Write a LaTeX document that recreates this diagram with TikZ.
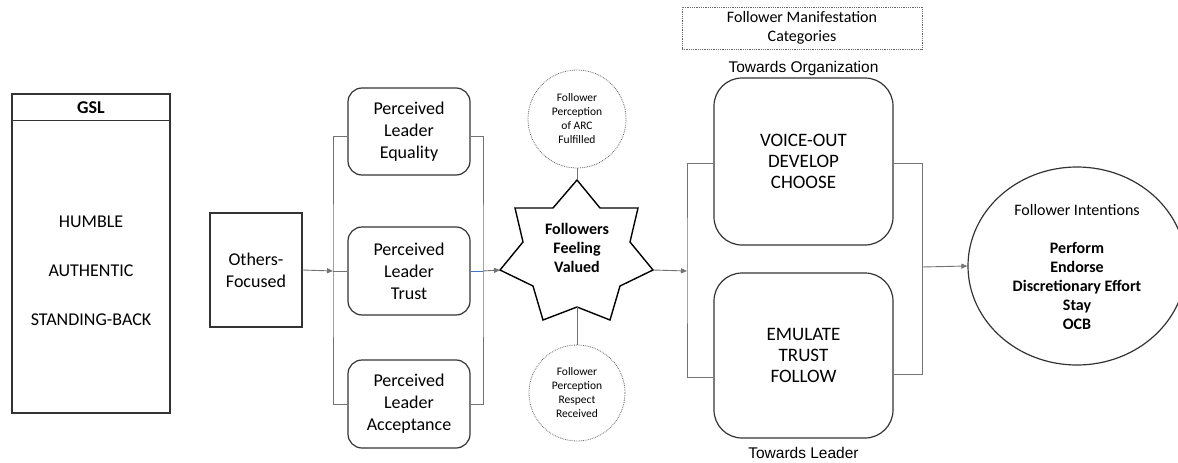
\documentclass[tikz,border=0pt]{standalone}
\usepackage{fontspec}
\setmainfont{Carlito}
\newfontfamily\arialfont{Liberation Sans}
\usetikzlibrary{arrows.meta,shapes.geometric}

\begin{document}
\begin{tikzpicture}[x=1pt,y=-1pt,
  box/.style={draw=black!80, line width=1.2pt, align=center, inner sep=0pt},
  roundbox/.style={box, rounded corners=14pt},
  bigbox/.style={box, rounded corners=28pt},
  dotcirc/.style={circle, draw=black!60, densely dotted, line width=0.8pt, align=center, inner sep=0pt},
  dotbox/.style={draw=black!60, densely dotted, line width=0.8pt, align=center, inner sep=0pt},
  link/.style={draw=black!55, line width=0.9pt},
  bluelink/.style={draw={rgb,255:red,68;green,114;blue,196}, line width=1pt},
  arr/.style={link, -{Triangle[length=6pt,width=5pt]}},
  boxtext/.style={font=\fontsize{18}{22}\selectfont},
  smalltext/.style={font=\fontsize{11.5}{14}\selectfont},
  midtext/.style={font=\fontsize{16}{19}\selectfont},
]
\useasboundingbox (0,0) rectangle (1178,463);
\fill[white] (0,0) rectangle (1178,463);

% leadership block
\node[box, minimum width=158, minimum height=319] (gsl) at (91,253.5) {};
\draw[box] ([yshift=-27pt]gsl.north west) -- ([yshift=-27pt]gsl.north east);
\node[font=\fontsize{18}{22}\selectfont\bfseries] (gsltitle) at (91,108) {GSL};
\node[align=center, font=\fontsize{18}{49}\selectfont] (traits) at (91,271) {HUMBLE\\AUTHENTIC\\STANDING-BACK};

\node[box, boxtext, minimum width=92, minimum height=114] (others) at (256,270) {Others-\\Focused};

% perceived leader attributes
\node[roundbox, boxtext, minimum width=122, minimum height=87] (equal) at (409,131.5) {Perceived\\Leader\\Equality};
\node[roundbox, boxtext, minimum width=122, minimum height=88] (trust) at (409,271) {Perceived\\Leader\\Trust};
\node[roundbox, boxtext, minimum width=122, minimum height=88] (accept) at (409,404) {Perceived\\Leader\\Acceptance};

\coordinate (lb) at (333,271);
\coordinate (rb) at (483,271);
\draw[arr] (others.east) -- (lb);
\draw[link] ([yshift=-5pt]equal.west) -| (lb) |- (accept.west);
\draw[link] (lb) -- (trust.west);
\draw[link] ([yshift=-5pt]equal.east) -| (rb) |- (accept.east);
\draw[bluelink] (trust.east) -- (rb);

% seven-pointed star
\coordinate (stT) at (577,180);
\coordinate (stR) at (653,270);
\coordinate (stB) at (577,307);
\coordinate (stL) at (500,270);
\draw[black, line width=1.4pt, line join=miter]
  (stT) -- (600,208) -- (638,208) -- (630,242) -- (stR) -- (620,286) -- (610,320)
  -- (stB) -- (543,320) -- (533,286) -- (stL) -- (523,242) -- (515,208) -- (553,208) -- cycle;
\node[align=center, font=\fontsize{16}{19}\selectfont\bfseries] (valued) at (577,248) {Followers\\Feeling\\Valued};
\draw[arr] (rb) -- (stL);

\node[dotcirc, smalltext, minimum size=98] (arc) at (577,119) {Follower\\Perception\\of ARC\\Fulfilled};
\node[dotcirc, smalltext, minimum size=96] (resp) at (577,393) {Follower\\Perception\\Respect\\Received};
\draw[link] (arc.south) -- (stT);
\draw[link] (stB) -- (resp.north);

% manifestation categories
\node[dotbox, midtext, minimum width=240, minimum height=42] (cats) at (802,28) {Follower Manifestation\\Categories};
\node[font=\arialfont\fontsize{15.5}{18}\selectfont] (toorg) at (803.5,68) {Towards Organization};
\node[bigbox, font=\fontsize{19}{21}\selectfont, minimum width=179, minimum height=167] (voice) at (803.5,161.5) {VOICE-OUT\\DEVELOP\\CHOOSE};
\node[bigbox, font=\fontsize{19}{21}\selectfont, minimum width=179, minimum height=165] (emul) at (803.5,355.5) {EMULATE\\TRUST\\FOLLOW};
\node[font=\arialfont\fontsize{15.5}{18}\selectfont] (tolead) at (803.5,453) {Towards Leader};

\coordinate (lb2) at (687,271);
\coordinate (rb2) at (922,267);
\draw[arr] (stR) -- (lb2);
\draw[link] ([yshift=-1.5pt]voice.west) -| (lb2) |- ([yshift=-21.5pt]emul.west);
\draw[link] ([yshift=-1.5pt]voice.east) -| (rb2) |- ([yshift=-19pt]emul.east);

% intentions
\node[ellipse, draw=black!80, line width=1.2pt, minimum width=218, minimum height=198, inner sep=0pt] (intent) at (1077,266) {};
\node[midtext] (intitle) at (1077,210) {Follower Intentions};
\node[align=center, font=\fontsize{16}{19}\selectfont\bfseries] (inlist) at (1077,286) {Perform\\Endorse\\Discretionary Effort\\Stay\\OCB};
\draw[arr] (rb2) -- (intent.west);
\end{tikzpicture}
\end{document}
